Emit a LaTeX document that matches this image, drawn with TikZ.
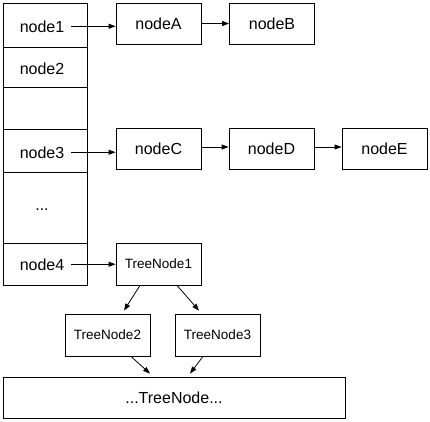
\documentclass[tikz,border=0pt]{standalone}
\usepackage{fontspec}
\setmainfont{Liberation Sans}
\usetikzlibrary{arrows.meta}
\begin{document}
\begin{tikzpicture}[x=1pt,y=-1pt,
  cell/.style={draw, line width=0.8pt, minimum width=84pt, inner sep=0pt},
  box/.style={draw, line width=0.8pt, minimum width=85pt, minimum height=41pt, inner sep=0pt, font=\fontsize{16}{18}\selectfont},
  tbox/.style={box, font=\fontsize{13.5}{16}\selectfont, minimum height=42pt},
  lbl/.style={inner sep=0pt, anchor=base, text height=11.5pt, text depth=0pt, font=\fontsize{16}{18}\selectfont},
  arr/.style={-{Triangle[length=7pt,width=5pt]}, line width=0.8pt}]
\useasboundingbox (0,0) rectangle (430,421);
% left column
\node[cell, minimum height=44pt] (r1) at (45,25) {};
\node[cell, minimum height=40pt] (r2) at (45,67) {};
\node[cell, minimum height=42pt] (r3) at (45,108) {};
\node[cell, minimum height=43pt] (r4) at (45,150.5) {};
\node[cell, minimum height=71pt] (r5) at (45,207.5) {};
\node[cell, minimum height=42pt] (r6) at (45,264) {};
\node[lbl] (t1) at (42,32) {node1};
\node[lbl] (t2) at (42,74) {node2};
\node[lbl] (t4) at (42,158) {node3};
\node[lbl] (t5) at (42,210) {...};
\node[lbl] (t6) at (42,270) {node4};
% right boxes
\node[box] (nA) at (158.5,23.5) {nodeA};
\node[box] (nB) at (272,23.5) {nodeB};
\node[box] (nC) at (158.5,148.5) {nodeC};
\node[box] (nD) at (271.5,148.5) {nodeD};
\node[box] (nE) at (384.5,148.5) {nodeE};
\node[tbox] (T1) at (158.5,264) {TreeNode1};
\node[tbox] (T2) at (107.5,335) {TreeNode2};
\node[tbox] (T3) at (217.5,335) {TreeNode3};
\node[box, minimum width=342pt] (TB) at (174,397.5) {...TreeNode...};
% arrows
\draw[arr] ([xshift=7pt]t1.east) -- (nA.west |- t1.east);
\draw[arr] (nA.east) -- (nB.west);
\draw[arr] ([xshift=7pt]t4.east) -- (nC.west |- t4.east);
\draw[arr] ([yshift=1.5pt]nC.east) -- ([yshift=1.5pt]nD.west);
\draw[arr] ([yshift=1.5pt]nD.east) -- ([yshift=1.5pt]nE.west);
\draw[arr] ([xshift=7pt]t6.east) -- (T1.west |- t6.east);
\draw[arr] ([xshift=-18.5pt]T1.south) -- ([xshift=16.5pt,yshift=3pt]T2.north);
\draw[arr] ([xshift=18.5pt]T1.south) -- ([xshift=-18.5pt,yshift=3pt]T3.north);
\draw[arr] ([xshift=23.5pt]T2.south) -- ([xshift=-24pt,yshift=3pt]TB.north);
\draw[arr] ([xshift=-14.5pt]T3.south) -- ([xshift=16pt,yshift=3pt]TB.north);
\end{tikzpicture}
\end{document}
